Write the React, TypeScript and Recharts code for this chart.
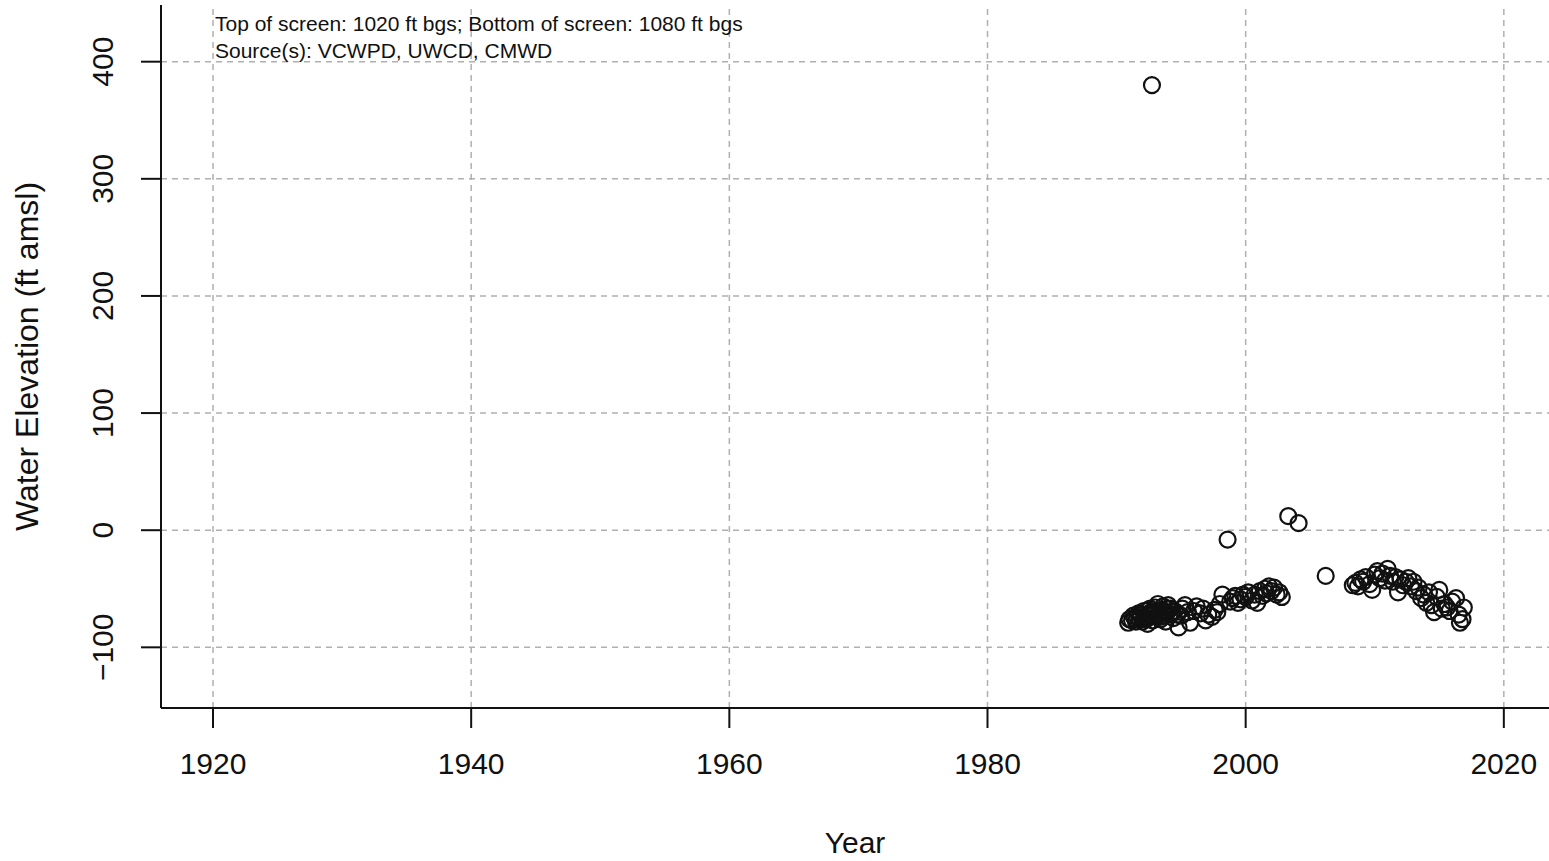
import React from "react";
import { ScatterChart, Scatter, XAxis, YAxis, ReferenceLine, Label } from "recharts";

const FONT = "'Liberation Sans', Arial, Helvetica, sans-serif";

const xTicks = [1920, 1940, 1960, 1980, 2000, 2020];
const yTicks = [-100, 0, 100, 200, 300, 400];

const notes = ["Top of screen: 1020 ft bgs; Bottom of screen: 1080 ft bgs", "Source(s): VCWPD, UWCD, CMWD"];

// measurement dates (decimal year) and water elevation (ft amsl)
const years = [
  1990.9, 1991.0, 1991.2, 1991.4, 1991.5, 1991.6, 1991.8, 1991.9, 1992.0, 1992.1,
  1992.2, 1992.3, 1992.4, 1992.5, 1992.6, 1992.7, 1992.8, 1992.9, 1993.0, 1993.1,
  1993.2, 1993.3, 1993.4, 1993.5, 1993.6, 1993.7, 1993.8, 1993.9, 1994.0, 1994.1,
  1994.2, 1994.4, 1994.5, 1994.7, 1994.8, 1995.0, 1995.1, 1995.3, 1995.5, 1995.7,
  1996.0, 1996.2, 1996.5, 1996.7, 1996.9, 1997.1, 1997.4, 1997.6, 1997.8, 1998.0,
  1998.2, 1998.6, 1998.8, 1999.0, 1999.2, 1999.4, 1999.6, 1999.8, 2000.0, 2000.2,
  2000.5, 2000.7, 2000.9, 2001.1, 2001.3, 2001.5, 2001.6, 2001.8, 2002.0, 2002.2,
  2002.4, 2002.6, 2002.8, 2003.3, 2004.1, 2006.2,
  2008.3, 2008.5, 2008.7, 2008.9, 2009.1, 2009.3, 2009.6, 2009.8, 2010.0, 2010.2,
  2010.4, 2010.6, 2010.8, 2011.0, 2011.2, 2011.4, 2011.6, 2011.8, 2012.0, 2012.2,
  2012.4, 2012.6, 2012.8, 2013.0, 2013.2, 2013.4, 2013.6, 2013.8, 2014.0, 2014.2,
  2014.4, 2014.6, 2014.8, 2015.0, 2015.2, 2015.4, 2015.6, 2015.8, 2016.0, 2016.3,
  2016.5, 2016.6, 2016.8, 2016.9,
  1991.3, 1991.7, 1992.15, 1992.45, 1992.75, 1993.05, 1993.35, 1993.65, 1993.95, 1994.3,
  1992.74,
];

const elevations = [
  -79, -76, -77, -75, -78, -74, -76, -72, -78, -69,
  -74, -76, -80, -71, -67, -73, -77, -70, -66, -74,
  -63, -71, -76, -68, -65, -73, -78, -70, -64, -72,
  -67, -75, -69, -72, -83, -73, -67, -64, -70, -79,
  -69, -65, -71, -67, -77, -72, -74, -68, -70, -63,
  -55, -8, -61, -58, -56, -62, -59, -55, -57, -53,
  -60, -55, -62, -52, -56, -50, -54, -48, -52, -49,
  -55, -53, -57, 12, 6, -39,
  -47, -45, -48, -42, -44, -40, -46, -51, -38, -35,
  -41, -37, -43, -33, -39, -44, -40, -53, -42, -47,
  -44, -41, -48, -44, -52, -49, -58, -55, -62, -53,
  -64, -70, -57, -51, -67, -63, -66, -69, -61, -58,
  -72, -79, -76, -66,
  -73, -71, -75, -68, -71, -69, -74, -70, -67, -70,
  380,
];

const data = years.map((year, i) => ({ year, elev: elevations[i] }));

const gridStyle = { stroke: "#b0b0b0", strokeWidth: 1.5, strokeDasharray: "6 5" };

const YTick = (props: any) => {
  const { x, y, payload } = props;
  const cx = x - 38;
  return (
    <text
      x={cx}
      y={y}
      transform={`rotate(-90, ${cx}, ${y})`}
      textAnchor="middle"
      dominantBaseline="central"
      fontSize={30}
      fontFamily={FONT}
      fill="#111"
    >
      {String(payload.value).replace("-", "\u2212")}
    </text>
  );
};

const Ring = (props: any) => (
  <circle cx={props.cx} cy={props.cy} r={8} fill="none" stroke="#111" strokeWidth={2.2} />
);

export default function App() {
  return (
    <div style={{ position: "absolute", left: 0, top: 0, width: 1549, height: 861, background: "#fff" }}>
      <ScatterChart width={1549} height={861} margin={{ top: 5, right: 0, bottom: 0, left: 0 }}>
        {xTicks.map((t) => (
          <ReferenceLine key={`vx${t}`} x={t} {...gridStyle} />
        ))}
        {yTicks.map((t) => (
          <ReferenceLine key={`hy${t}`} y={t} {...gridStyle} />
        ))}
        <XAxis
          type="number"
          dataKey="year"
          domain={[1915.97, 2023.5]}
          ticks={xTicks}
          allowDataOverflow
          height={153}
          tickSize={20}
          tickMargin={25}
          axisLine={{ stroke: "#111", strokeWidth: 2 }}
          tickLine={{ stroke: "#111", strokeWidth: 2 }}
          tick={{ fontSize: 30, fontFamily: FONT, fill: "#111" }}
        >
          <Label
            value="Year"
            position="insideBottom"
            offset={8}
            style={{ fontSize: 30, fontFamily: FONT, fill: "#111" }}
          />
        </XAxis>
        <XAxis
          xAxisId="top"
          orientation="top"
          type="number"
          domain={[1915.97, 2023.5]}
          height={0}
          tick={false}
          tickLine={false}
          axisLine={{ stroke: "#111", strokeWidth: 2 }}
        />
        <YAxis
          type="number"
          dataKey="elev"
          domain={[-151.8, 448.4]}
          ticks={yTicks}
          allowDataOverflow
          width={161}
          tickSize={20}
          tickMargin={0}
          axisLine={{ stroke: "#111", strokeWidth: 2 }}
          tickLine={{ stroke: "#111", strokeWidth: 2 }}
          tick={<YTick />}
        >
          <Label
            value="Water Elevation (ft amsl)"
            content={(p: any) => {
              const vb = p.viewBox;
              const cy = vb.y + vb.height / 2;
              return (
                <text
                  x={27}
                  y={cy}
                  transform={`rotate(-90, 27, ${cy})`}
                  textAnchor="middle"
                  dominantBaseline="central"
                  fontSize={32}
                  fontFamily={FONT}
                  fill="#111"
                >
                  Water Elevation (ft amsl)
                </text>
              );
            }}
          />
        </YAxis>
        <Scatter data={data} shape={<Ring />} isAnimationActive={false} />
      </ScatterChart>
      {notes.map((t, i) => (
        <div
          key={t}
          style={{
            position: "absolute",
            left: 215,
            top: 12 + i * 27,
            fontSize: 21,
            lineHeight: "24px",
            fontFamily: FONT,
            color: "#111",
            whiteSpace: "nowrap",
          }}
        >
          {t}
        </div>
      ))}
    </div>
  );
}
